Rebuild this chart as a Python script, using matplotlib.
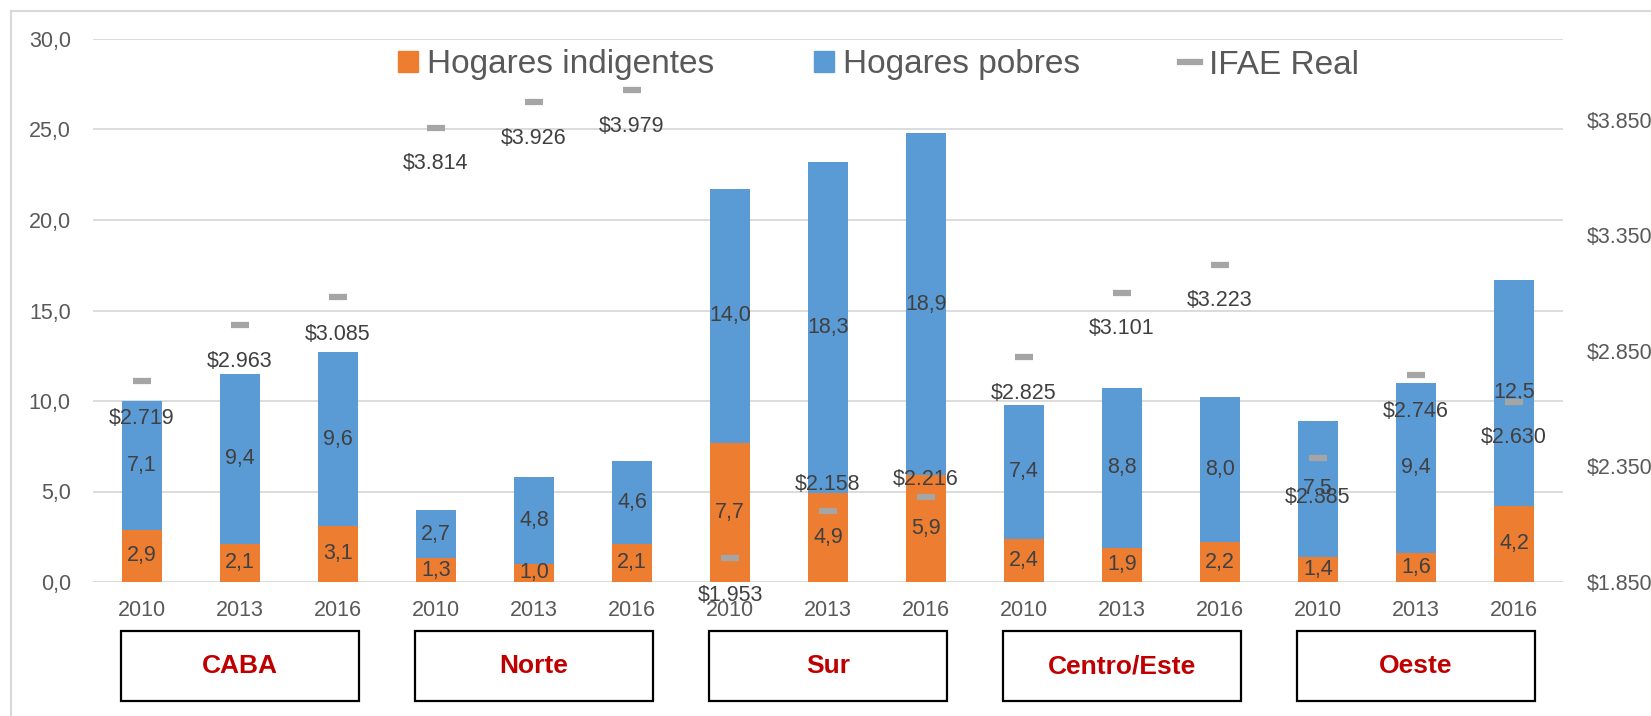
import numpy as np
import matplotlib
matplotlib.use('Agg')
import matplotlib.pyplot as plt
from matplotlib.patches import Rectangle, Patch
from matplotlib.lines import Line2D
from matplotlib.transforms import blended_transform_factory

# --- Data ---
regions = ['CABA', 'Norte', 'Sur', 'Centro/Este', 'Oeste']
years = ['2010', '2013', '2016']

indigentes = [2.9, 2.1, 3.1, 1.3, 1.0, 2.1, 7.7, 4.9, 5.9, 2.4, 1.9, 2.2, 1.4, 1.6, 4.2]
pobres = [7.1, 9.4, 9.6, 2.7, 4.8, 4.6, 14.0, 18.3, 18.9, 7.4, 8.8, 8.0, 7.5, 9.4, 12.5]
ifae_real = [2719, 2963, 3085, 3814, 3926, 3979, 1953, 2158, 2216,
             2825, 3101, 3223, 2385, 2746, 2630]

left_ticks = [0, 5, 10, 15, 20, 25, 30]
right_ticks = [1850, 2350, 2850, 3350, 3850]

# label placement for IFAE values (pixels below the marker, negative = above)
ifae_label_dy = [37, 37, 38, 35, 36, 36, 37, -26, -18, 37, 36, 36, 39, 37, 36]

ORANGE = '#ED7D31'
BLUE = '#5B9BD5'
GRAY = '#A5A5A5'
TXT = '#404040'
AXTXT = '#595959'

plt.rcParams['font.family'] = ['Liberation Sans', 'DejaVu Sans']


def comma(v):
    return f'{v:.1f}'.replace('.', ',')


def pesos(v):
    return r'\$' + f'{v:,}'.replace(',', '.')


W, H = 1651, 716
fig = plt.figure(figsize=(W / 100, H / 100), dpi=100)
ax = fig.add_axes([93 / W, 1 - 582 / H, (1563 - 93) / W, (582 - 39) / H])

x = np.arange(len(indigentes))
ax.set_xlim(-0.5, len(x) - 0.5)
ax.set_ylim(0, 30)

b1 = ax.bar(x, indigentes, 0.4, color=ORANGE, zorder=2)
b2 = ax.bar(x, pobres, 0.4, bottom=indigentes, color=BLUE, zorder=2)
ax.bar_label(b1, labels=[comma(v) for v in indigentes], label_type='center',
             fontsize=15.5, color=TXT)
ax.bar_label(b2, labels=[comma(v) for v in pobres], label_type='center',
             fontsize=15.5, color=TXT)

ax.set_yticks(left_ticks)
ax.set_yticklabels([comma(v) for v in left_ticks])
ax.set_xticks(x)
ax.set_xticklabels(years * len(regions))
ax.grid(axis='y', color='#D9D9D9', lw=1.3)
ax.set_axisbelow(True)
for s in ax.spines.values():
    s.set_visible(False)
ax.tick_params(axis='both', length=0, labelsize=15.5, colors=AXTXT)
ax.tick_params(axis='x', pad=13)
ax.tick_params(axis='y', pad=16)

# --- Secondary axis: IFAE Real ---
ax2 = ax.twinx()
ax2.set_ylim(1850, 4200)
ax2.plot(x, ifae_real, ls='none', marker='_', ms=13, mew=4.5, color=GRAY, zorder=3)
ax2.set_yticks(right_ticks)
ax2.set_yticklabels([pesos(v) for v in right_ticks])
ax2.tick_params(axis='y', length=0, labelsize=15.5, colors=AXTXT, pad=17)
for s in ax2.spines.values():
    s.set_visible(False)
for xi, v, dy in zip(x, ifae_real, ifae_label_dy):
    ax2.annotate(pesos(v), (xi, v), xytext=(0, -dy * 0.72), textcoords='offset points',
                 ha='center', va='center', fontsize=15.5, color=TXT)

# --- Region boxes under the year labels ---
trans = blended_transform_factory(ax.transData, ax.transAxes)
for g, name in enumerate(regions):
    c = 3 * g + 1
    ax.add_patch(Rectangle((c - 1.21, -0.219), 2.42, 0.129, transform=trans,
                           fill=False, ec='black', lw=1.6, clip_on=False))
    ax.text(c, -0.155, name, transform=trans, ha='center', va='center',
            fontsize=19, fontweight='bold', color='#C00000')

# legend along the top
handles = [Patch(color=ORANGE), Patch(color=BLUE), Line2D([], [], color=GRAY, lw=4.5)]
fig.legend(handles, ['Hogares indigentes', 'Hogares pobres', 'IFAE Real'],
           loc='center left', bbox_to_anchor=(398 / W, 1 - 65 / H), ncol=3,
           frameon=False, fontsize=24, handlelength=0.6, handleheight=0.6,
           handletextpad=0.27, columnspacing=3.0, borderpad=0, borderaxespad=0,
           labelcolor=AXTXT)

# chart area border (top and left visible in the reference)
fig.add_artist(Line2D([11 / W, 11 / W], [0, 1 - 11 / H], transform=fig.transFigure,
                      color='#D9D9D9', lw=1.5))
fig.add_artist(Line2D([11 / W, 1], [1 - 11 / H, 1 - 11 / H], transform=fig.transFigure,
                      color='#D9D9D9', lw=1.5))

fig.savefig('out.png', dpi=100)
